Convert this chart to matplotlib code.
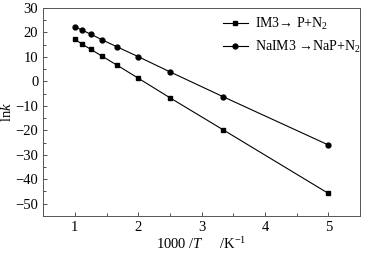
import matplotlib
matplotlib.use("Agg")
import matplotlib.pyplot as plt
from matplotlib.ticker import MultipleLocator

plt.rcParams['font.family'] = ['Liberation Serif', 'DejaVu Serif']
plt.rcParams['mathtext.fontset'] = 'custom'
plt.rcParams['mathtext.rm'] = 'Liberation Serif'
plt.rcParams['mathtext.it'] = 'Liberation Serif:italic'

x_vals = [1.0, 1.111, 1.25, 1.429, 1.667, 2.0, 2.5, 3.333, 5.0]
im3 = [17.2, 15.3, 13.1, 10.3, 6.6, 1.3, -6.7, -19.7, -45.8]
naim3 = [22.4, 21.0, 19.3, 17.0, 14.1, 10.1, 3.9, -6.2, -26.0]
labels = ["IM3\u2192 P+N$_2$", "NaIM3 \u2192NaP+N$_2$"]
xticks = [1, 2, 3, 4, 5]
yticks = [30, 20, 10, 0, -10, -20, -30, -40, -50]

fig = plt.figure(figsize=(3.66, 2.58), dpi=100)
ax = fig.add_axes([0.118, 0.163, 0.866, 0.806])
ax.plot(x_vals, im3, color='black', lw=0.8, marker='s', ms=3.5, label=labels[0])
ax.plot(x_vals, naim3, color='black', lw=0.8, marker='o', ms=3.5, label=labels[1])
ax.set_xlim(0.5, 5.5)
ax.set_ylim(-55, 30)
ax.set_xticks(xticks)
ax.set_yticks(yticks)
ax.set_yticklabels([str(v).replace('-', '\u2212') for v in yticks])
ax.xaxis.set_minor_locator(MultipleLocator(0.5))
ax.yaxis.set_minor_locator(MultipleLocator(5))
ax.tick_params(which='both', direction='in', top=False, right=False, labelsize=10.5, width=0.6, colors='#333333', labelcolor='black')
ax.tick_params(which='major', length=3)
ax.tick_params(which='minor', length=2)
for s in ax.spines.values():
    s.set_linewidth(0.7)
    s.set_color('#555555')
ax.set_xlabel(r"1000 /$T$     /K$^{-1}$", fontsize=10.5, labelpad=2)
ax.set_ylabel(r"ln$k$", fontsize=10.5, labelpad=1)
ax.legend(loc='upper left', bbox_to_anchor=(0.54, 1.0), frameon=False, fontsize=10,
          handlelength=1.8, handletextpad=0.5, borderaxespad=0.2, labelspacing=0.45)
fig.savefig("out.png", dpi=100)
